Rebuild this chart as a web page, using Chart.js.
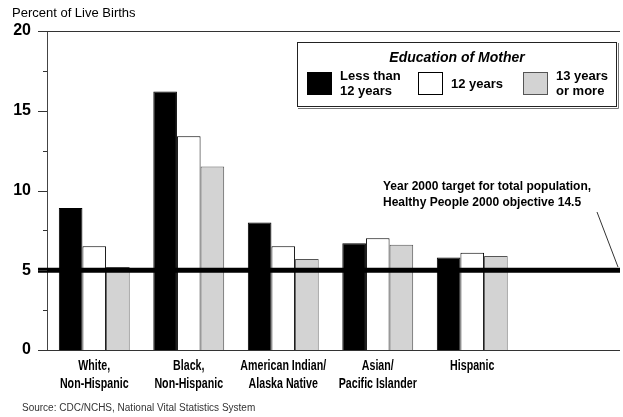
<!DOCTYPE html>
<html>
<head>
<meta charset="utf-8">
<script src="https://cdn.jsdelivr.net/npm/chart.js@4/dist/chart.umd.min.js"></script>
<style>
html, body { margin: 0; padding: 0; background: #fff; }
#wrap { width: 623px; height: 417px; }
</style>
</head>
<body>
<div id="wrap"><canvas id="myChart" width="623" height="417"></canvas></div>
<script>
// race / ethnicity groups (two-line labels)
var categories = [
    ['White,', 'Non-Hispanic'],
    ['Black,', 'Non-Hispanic'],
    ['American Indian/', 'Alaska Native'],
    ['Asian/', 'Pacific Islander'],
    ['Hispanic']
];
// percent of live births, by education of mother
var lessThan12 = [8.9, 16.2, 8.0, 6.7, 5.8];
var twelveYears = [6.5, 13.4, 6.5, 7.0, 6.1];
var thirteenPlus = [5.2, 11.5, 5.7, 6.6, 5.9];
var seriesLabels = [['Less than', '12 years'], ['12 years'], ['13 years', 'or more']];
var yTicks = [0, 5, 10, 15, 20];
var targetValue = 5;
var targetText = ['Year 2000 target for total population,', 'Healthy People 2000 objective 14.5'];

var FONT = "'Liberation Sans', Arial, sans-serif";

// empty slot at the right end holds the target note
var xLabels = categories.concat([['']]);

var decorPlugin = {
    id: 'decor',
    afterDatasetsDraw: function(chart) {
        var ctx = chart.ctx, y = chart.scales.y;
        ctx.save();
        // target line
        var ty = y.getPixelForValue(targetValue);
        ctx.fillStyle = '#000';
        ctx.fillRect(38, ty - 2.5, 620 - 38, 5);
        ctx.restore();
    },
    afterDraw: function(chart) {
        var ctx = chart.ctx, x = chart.scales.x, y = chart.scales.y, area = chart.chartArea;
        var ds = chart.data.datasets;
        ctx.save();
        // frame lines top and bottom
        ctx.strokeStyle = '#333';
        ctx.lineWidth = 1;
        ctx.beginPath();
        ctx.moveTo(38, Math.round(area.top) + 0.5);
        ctx.lineTo(620, Math.round(area.top) + 0.5);
        ctx.moveTo(38, Math.round(area.bottom) + 0.5);
        ctx.lineTo(620, Math.round(area.bottom) + 0.5);
        ctx.stroke();
        // major / minor ticks
        ctx.beginPath();
        for (var v = 0; v <= yTicks[yTicks.length - 1]; v += 2.5) {
            var py = Math.round(y.getPixelForValue(v)) + 0.5;
            var major = yTicks.indexOf(v) !== -1;
            ctx.moveTo(major ? 38 : 43, py);
            ctx.lineTo(area.left, py);
        }
        ctx.stroke();

        // category labels, narrow bold (condensed horizontally)
        ctx.fillStyle = '#000';
        ctx.font = 'bold 15px ' + FONT;
        ctx.textAlign = 'center';
        ctx.textBaseline = 'middle';
        categories.forEach(function(lab, i) {
            var cx = x.getPixelForValue(i);
            lab.forEach(function(line, j) {
                ctx.save();
                ctx.translate(cx, 0);
                ctx.scale(0.71, 1);
                ctx.fillText(line, 0, 366 + j * 18);
                ctx.restore();
            });
        });

        // axis title
        ctx.font = '13px ' + FONT;
        ctx.textAlign = 'left';
        ctx.fillText('Percent of Live Births', 12, 13);

        // target note + leader line
        ctx.font = 'bold 12px ' + FONT;
        ctx.fillText(targetText[0], 383, 187);
        ctx.fillText(targetText[1], 383, 203);
        ctx.beginPath();
        ctx.moveTo(597, 212);
        ctx.lineTo(618, 267);
        ctx.stroke();

        // legend box
        ctx.fillStyle = '#fff';
        ctx.fillRect(297, 42, 320, 65);
        ctx.strokeStyle = '#222';
        ctx.lineWidth = 1;
        ctx.strokeRect(297.5, 42.5, 319, 64);
        ctx.strokeStyle = '#777';
        ctx.beginPath();
        ctx.moveTo(618.5, 43); ctx.lineTo(618.5, 108.5); ctx.lineTo(298, 108.5);
        ctx.stroke();
        ctx.fillStyle = '#000';
        ctx.font = 'italic bold 14px ' + FONT;
        ctx.textAlign = 'center';
        ctx.fillText('Education of Mother', 457, 58);

        var swX = [307, 418, 523];
        ctx.font = 'bold 13px ' + FONT;
        ctx.textAlign = 'left';
        for (var i = 0; i < ds.length; i++) {
            ctx.fillStyle = ds[i].backgroundColor;
            ctx.fillRect(swX[i], 72, 25, 23);
            ctx.strokeStyle = ds[i].borderColor;
            ctx.strokeRect(swX[i] + 0.5, 72.5, 24, 22);
            ctx.fillStyle = '#000';
            var lines = seriesLabels[i];
            var cy = 84 - (lines.length - 1) * 7.5;
            for (var j = 0; j < lines.length; j++) {
                ctx.fillText(lines[j], swX[i] + 33, cy + j * 15);
            }
        }

        // source
        ctx.fillStyle = '#333';
        ctx.font = '10px ' + FONT;
        ctx.fillText('Source: CDC/NCHS, National Vital Statistics System', 22, 408);
        ctx.restore();
    }
};

var ctx = document.getElementById('myChart').getContext('2d');
new Chart(ctx, {
    type: 'bar',
    data: {
        labels: xLabels,
        datasets: [
            { label: 'Less than 12 years', data: lessThan12, backgroundColor: '#000', borderColor: '#000', borderWidth: 1 },
            { label: '12 years', data: twelveYears, backgroundColor: '#fff', borderColor: '#000', borderWidth: 1 },
            { label: '13 years or more', data: thirteenPlus, backgroundColor: '#d3d3d3', borderColor: '#555', borderWidth: 1 }
        ]
    },
    options: {
        responsive: false,
        animation: false,
        layout: { padding: { top: 31, right: 9, left: 0, bottom: 0 } },
        datasets: { bar: { barPercentage: 1, categoryPercentage: 0.75 } },
        plugins: { legend: { display: false }, tooltip: { enabled: false } },
        scales: {
            x: {
                grid: { display: false, drawTicks: false },
                border: { display: false },
                afterFit: function(s) { s.height = 67; },
                ticks: { display: false }
            },
            y: {
                min: 0,
                max: 20,
                grid: { display: false, drawTicks: false },
                border: { display: true, color: '#444', width: 1 },
                afterFit: function(s) { s.width = 47; },
                afterBuildTicks: function(s) {
                    s.ticks = yTicks.map(function(v) { return { value: v }; });
                },
                ticks: {
                    color: '#000',
                    padding: 16,
                    font: { family: FONT, size: 16, weight: 'bold' }
                }
            }
        }
    },
    plugins: [decorPlugin]
});
</script>
</body>
</html>
